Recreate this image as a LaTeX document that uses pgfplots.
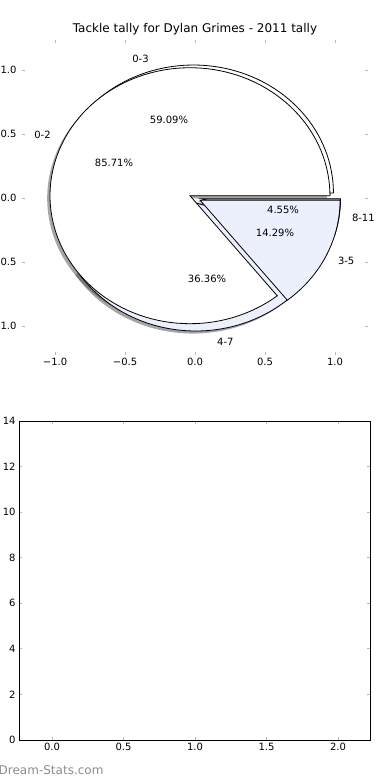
\documentclass[border=0pt]{standalone}
\usepackage{pgfplots}
\pgfplotsset{compat=1.18}
\usepackage{fontspec}
\setmainfont{DejaVu Sans}
\definecolor{lblue}{RGB}{235,240,252}
\definecolor{tickgray}{RGB}{185,185,185}
\pgfplotsset{
  /pgf/number format/assume math mode=true,
  wedge/.style={draw=black, line width=0.8bp, line join=miter, samples=120},
  shadow/.style={draw=none, fill=black!70, fill opacity=0.5, samples=120},
}
\begin{document}
\begin{tikzpicture}[x=1bp,y=1bp]
\useasboundingbox (0,0) rectangle (390,780);
% ---------------- pie axis ----------------
\begin{axis}[
  at={(22bp,425bp)}, anchor=south west,
  scale only axis, width=346bp, height=315bp,
  xmin=-1.236, xmax=1.2357, ymin=-1.227, ymax=1.234,
  axis line style={draw=none},
  tick align=inside, major tick length=3bp,
  tick style={draw=tickgray, line width=0.8bp},
  xtick={-1,-0.5,0,0.5,1}, xticklabels={−1.0,−0.5,0.0,0.5,1.0},
  ytick={-1,-0.5,0,0.5,1}, yticklabels={−1.0,−0.5,0.0,0.5,1.0},
  tick label style={font=\fontsize{10bp}{12bp}\selectfont},
  yticklabel style={xshift=-2bp},
  clip=false,
]
% shadows (offset -0.02,-0.02)
\addplot[shadow, domain=0:212.727] ({-0.03127+cos(x)},{0.01838+sin(x)}) -- (axis cs:-0.03127,0.01838) -- cycle;
\addplot[shadow, domain=212.727:343.636] ({-0.01431+cos(x)},{-0.05959+sin(x)}) -- (axis cs:-0.01431,-0.05959) -- cycle;
\addplot[shadow, domain=343.636:360] ({0.01959+cos(x)},{-0.02569+sin(x)}) -- (axis cs:0.01959,-0.02569) -- cycle;
\addplot[shadow, domain=0:308.571] ({-0.05604+cos(x)},{-0.00264+sin(x)}) -- (axis cs:-0.05604,-0.00264) -- cycle;
\addplot[shadow, domain=308.571:360] ({0.01604+cos(x)},{-0.03736+sin(x)}) -- (axis cs:0.01604,-0.03736) -- cycle;
% pie 1: 0-3 (13), 4-7 (8), 8-11 (1)
\addplot[wedge, fill=white, domain=0:212.727] ({-0.01127+cos(x)},{0.03838+sin(x)}) -- (axis cs:-0.01127,0.03838) -- cycle;
\addplot[wedge, fill=lblue, domain=212.727:343.636] ({0.00569+cos(x)},{-0.03959+sin(x)}) -- (axis cs:0.00569,-0.03959) -- cycle;
\addplot[wedge, fill=black!45, domain=343.636:360] ({0.03959+cos(x)},{-0.00569+sin(x)}) -- (axis cs:0.03959,-0.00569) -- cycle;
% pie 2: 0-2 (12), 3-5 (2)
\addplot[wedge, fill=white, domain=0:308.571] ({-0.03604+cos(x)},{0.01736+sin(x)}) -- (axis cs:-0.03604,0.01736) -- cycle;
\addplot[wedge, fill=lblue, domain=308.571:360] ({0.03604+cos(x)},{-0.01736+sin(x)}) -- (axis cs:0.03604,-0.01736) -- cycle;
% labels
\begin{scope}[every node/.style={font=\fontsize{10bp}{12bp}\selectfont, inner sep=0pt}]
\node[anchor=east] at (axis cs:-0.33,1.09) {0-3};
\node[anchor=east] at (axis cs:-1.03,0.49) {0-2};
\node[anchor=west] at (axis cs:1.12,-0.156) {8-11};
\node[anchor=west] at (axis cs:1.02,-0.49) {3-5};
\node[anchor=west] at (axis cs:0.157,-1.125) {4-7};
\node at (axis cs:-0.186,0.61) {59.09\%};
\node at (axis cs:-0.579,0.273) {85.71\%};
\node at (axis cs:0.086,-0.633) {36.36\%};
\node at (axis cs:0.629,-0.094) {4.55\%};
\node at (axis cs:0.571,-0.273) {14.29\%};
\end{scope}
\end{axis}
% ---------------- empty axis ----------------
\begin{axis}[
  at={(19bp,40bp)}, anchor=south west,
  scale only axis, width=351bp, height=319bp,
  xmin=-0.231, xmax=2.224, ymin=0, ymax=14,
  axis line style={draw=black, line width=0.8bp},
  tick align=inside, major tick length=3bp,
  tick style={draw=tickgray, line width=0.8bp},
  xtick={0,0.5,1,1.5,2}, xticklabels={0.0,0.5,1.0,1.5,2.0},
  ytick={0,2,4,6,8,10,12,14},
  tick label style={font=\fontsize{10bp}{12bp}\selectfont},
]
\end{axis}
\node[anchor=base, font=\fontsize{12bp}{14bp}\selectfont] at (195,747) {Tackle tally for Dylan Grimes - 2011 tally};
\node[anchor=base west, inner sep=0pt, text=black!45, font=\fontsize{12bp}{14bp}\selectfont] at (-1.5,5) {Dream-Stats.com};
\end{tikzpicture}
\end{document}
